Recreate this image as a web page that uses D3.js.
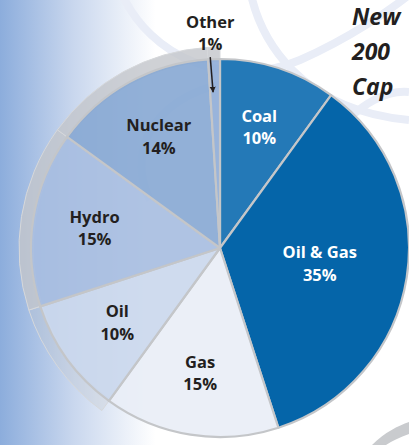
<!DOCTYPE html>
<html>
<head>
<meta charset="utf-8">
<script src="https://cdn.jsdelivr.net/npm/d3@7"></script>
<style>
  html, body { margin: 0; padding: 0; background: #fff; }
  svg { display: block; }
</style>
</head>
<body>
<svg id="chart" width="409" height="445"></svg>
<script>
const categories = ['Coal', 'Oil & Gas', 'Gas', 'Oil', 'Hydro', 'Nuclear', 'Other'];
const shares = [10, 35, 15, 10, 15, 14, 1];
const sliceColors = ['#2479b7', '#0565a9', '#e9edf6', '#cad7ec', '#a6bce0', '#86a7d3', '#8eacd7'];
const labelColors = ['#fff', '#fff', '#231f20', '#231f20', '#231f20', '#231f20', '#231f20'];
const titleLines = ['New', '200', 'Cap'];

const W = 409, H = 445;
const cx = 220, cy = 248, R = 189;
const svg = d3.select('#chart');

// background: blue fade on the left
const defs = svg.append('defs');
const bg = defs.append('linearGradient').attr('id', 'bgfade')
  .attr('x1', 0).attr('x2', 1).attr('y1', 0).attr('y2', 0);
bg.append('stop').attr('offset', '0%').attr('stop-color', '#8caddc');
bg.append('stop').attr('offset', '18%').attr('stop-color', '#c9d7ee');
bg.append('stop').attr('offset', '38%').attr('stop-color', '#ffffff');
bg.append('stop').attr('offset', '100%').attr('stop-color', '#ffffff');
svg.append('rect').attr('width', W).attr('height', H).attr('fill', 'url(#bgfade)');

// faint watermark swooshes
const wm = svg.append('g').attr('fill', 'none').attr('stroke', '#e9edf7').attr('stroke-width', 8);
wm.append('path').attr('d', 'M120,-10 C150,60 230,90 300,60 C350,38 390,10 409,-5');
wm.append('path').attr('d', 'M250,-10 C260,40 300,110 409,120');
wm.append('path').attr('d', 'M150,200 C120,140 170,80 260,80');
wm.append('path').attr('d', 'M330,140 C360,100 390,90 409,92');

const pie = d3.pie().sort(null).value(d => d)(shares);
const arc = d3.arc().innerRadius(0).outerRadius(R);
const g = svg.append('g').attr('transform', `translate(${cx},${cy})`);

// gray rim behind the left-hand slices
const rim = d3.arc().innerRadius(R - 2).outerRadius(R + 12);
const rimSlices = [3, 4, 5, 6];
g.selectAll('path.rim')
  .data(rimSlices.map(i => pie[i]))
  .enter().append('path')
  .attr('class', 'rim')
  .attr('d', rim)
  .attr('fill', '#c3c6cb')
  .attr('fill-opacity', d => d.index === 3 ? 0.3 : 0.8)
  .attr('stroke', '#d6d8db')
  .attr('stroke-width', 1);

// slices
g.selectAll('path.slice')
  .data(pie)
  .enter().append('path')
  .attr('class', 'slice')
  .attr('d', arc)
  .attr('fill', (d, i) => sliceColors[i])
  .attr('fill-opacity', (d, i) => (i >= 2 ? 0.9 : 1))
  .attr('stroke', '#c4c6c9')
  .attr('stroke-width', 2.2)
  .attr('stroke-linejoin', 'round');

// labels
const labelArc = d3.arc().innerRadius(127).outerRadius(127);
const bigArc = d3.arc().innerRadius(101).outerRadius(101);
const labels = g.selectAll('g.lab')
  .data(pie.filter(d => d.index < 6))
  .enter().append('g')
  .attr('class', 'lab')
  .attr('transform', d => {
    const [x, y] = (d.index === 1 ? bigArc : labelArc).centroid(d);
    return `translate(${x},${y})`;
  });
labels.append('text')
  .attr('y', -5.5)
  .text(d => categories[d.index]);
labels.append('text')
  .attr('y', 17)
  .text(d => `${shares[d.index]}%`);
labels.selectAll('text')
  .attr('text-anchor', 'middle')
  .attr('font-family', '"Open Sans", sans-serif')
  .attr('font-weight', 700)
  .attr('font-size', 16.5)
  .attr('fill', function () { return labelColors[d3.select(this.parentNode).datum().index]; });

// "Other" callout above the pie with arrow
const other = pie[6];
const mid = (other.startAngle + other.endAngle) / 2;
const outerLab = d3.arc().innerRadius(215).outerRadius(215);
const [ox, oy] = outerLab.centroid(other);
const otherG = g.append('g').attr('transform', `translate(${ox - 3},${oy})`)
  .attr('text-anchor', 'middle')
  .attr('font-family', '"Open Sans", sans-serif')
  .attr('font-weight', 700)
  .attr('font-size', 16.5)
  .attr('fill', '#231f20');
otherG.append('text').attr('y', -5.5).text(categories[6]);
otherG.append('text').attr('y', 17).text(`${shares[6]}%`);

defs.append('marker').attr('id', 'arrowhead')
  .attr('viewBox', '0 0 10 10').attr('refX', 9).attr('refY', 5)
  .attr('markerWidth', 6).attr('markerHeight', 7).attr('orient', 'auto')
  .attr('markerUnits', 'userSpaceOnUse')
  .append('path').attr('d', 'M0,0 L10,5 L0,10 Z').attr('fill', '#231f20');
g.append('line')
  .attr('x1', ox - 3).attr('y1', oy + 24)
  .attr('x2', Math.sin(mid) * 156 - 2).attr('y2', -Math.cos(mid) * 156)
  .attr('stroke', '#231f20').attr('stroke-width', 1.5)
  .attr('marker-end', 'url(#arrowhead)');

// gray swoosh, bottom right
svg.append('path')
  .attr('d', 'M372,445 C385,432 398,426 409,422 L409,434 C400,437 392,441 386,445 Z')
  .attr('fill', '#c9cbce');

// title fragment, as much of it as the frame shows
svg.append('g')
  .attr('font-family', '"Open Sans", sans-serif')
  .attr('font-weight', 700)
  .attr('font-style', 'italic')
  .attr('font-size', 23)
  .attr('fill', '#231f20')
  .selectAll('text')
  .data(titleLines)
  .enter().append('text')
  .attr('x', 352)
  .attr('y', (d, i) => 25 + i * 35)
  .text(d => d);
</script>
</body>
</html>
